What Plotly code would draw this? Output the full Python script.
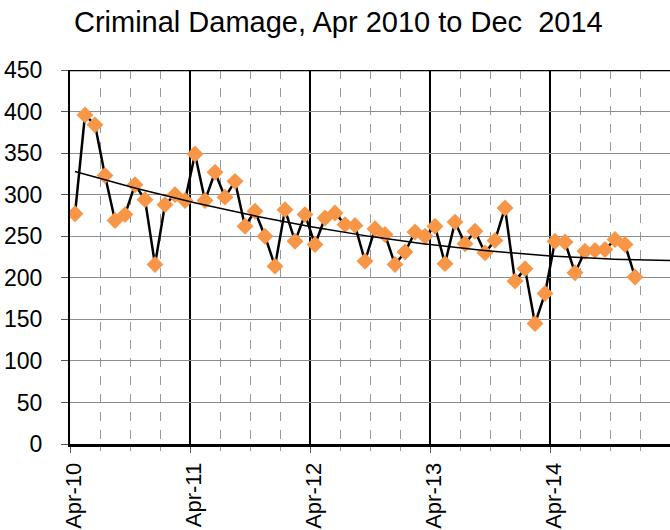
import numpy as np
import plotly.graph_objects as go

# Monthly categories Apr-2010 .. Dec-2014
month_names = ["Jan", "Feb", "Mar", "Apr", "May", "Jun", "Jul", "Aug", "Sep", "Oct", "Nov", "Dec"]
months = []
for yr in range(2010, 2015):
    for m in range(12):
        if yr == 2010 and m < 3:
            continue
        months.append(f"{month_names[m]}-{str(yr)[2:]}")

values = [277, 396, 384, 323, 269, 276, 312, 294, 216, 288, 300, 293,
          349, 293, 327, 297, 316, 262, 280, 250, 214, 282, 244, 276,
          240, 272, 278, 264, 263, 220, 259, 252, 216, 231, 255, 250,
          262, 217, 267, 241, 256, 230, 245, 284, 196, 211, 145, 181,
          244, 243, 206, 232, 233, 234, 246, 240, 201]

tick_labels = ["Apr-10", "Apr-11", "Apr-12", "Apr-13", "Apr-14"]

idx = np.arange(len(values))
# polynomial (order 2) trend line, as in the spreadsheet
coef = np.polyfit(idx + 1, values, 2)
tx = np.linspace(0, 59.5, 200)
ty = np.polyval(coef, tx + 1)

fig = go.Figure()
fig.add_trace(go.Scatter(
    x=idx, y=values, mode="lines+markers", text=months,
    line=dict(color="black", width=2.5),
    marker=dict(symbol="diamond", size=13, color="#F79646"),
    showlegend=False))
fig.add_trace(go.Scatter(
    x=tx, y=ty, mode="lines", line=dict(color="black", width=1.5),
    showlegend=False, hoverinfo="skip"))

tickvals = [-0.5 + 12 * k for k in range(len(tick_labels))]

fig.update_layout(
    width=670, height=530,
    margin=dict(l=70, r=0, t=70, b=86),
    paper_bgcolor="white", plot_bgcolor="white",
    font=dict(family="Liberation Sans, Arial, sans-serif", color="black"),
    title=dict(text="Criminal Damage, Apr 2010 to Dec\u00a0 2014",
               font=dict(size=29, color="black"),
               x=0.505, xref="container", xanchor="center",
               y=0.958, yref="container", yanchor="middle"),
    xaxis=dict(range=[-0.5, 59.5], tickmode="array", tickvals=tickvals, ticktext=tick_labels,
               tickangle=-90, tickfont=dict(size=22),
               showgrid=True, gridcolor="black", gridwidth=2,
               showline=True, linecolor="black", linewidth=3,
               ticks="outside", ticklen=6, tickcolor="#555", tickwidth=1,
               ticklabelstandoff=1, ticklabelshift=4, automargin=False,
               minor=dict(tick0=-0.5, dtick=3, showgrid=True, gridcolor="#999",
                          griddash="dash", gridwidth=1,
                          ticks="outside", ticklen=4, tickcolor="#999"),
               zeroline=False),
    yaxis=dict(range=[0, 450], dtick=50, tickfont=dict(size=23),
               showgrid=True, gridcolor="#8c8c8c", gridwidth=1.2,
               showline=True, linecolor="black", linewidth=2,
               ticks="outside", ticklen=7, tickcolor="#555",
               ticklabelstandoff=14, zeroline=False, automargin=False),
    shapes=[dict(type="line", xref="x", yref="y", x0=-0.5, x1=59.5, y0=450, y1=450,
                 line=dict(color="black", width=2.5))],
)

fig.write_html("out.html", config={"displayModeBar": False},
               post_script="document.body.style.margin='0px';")
